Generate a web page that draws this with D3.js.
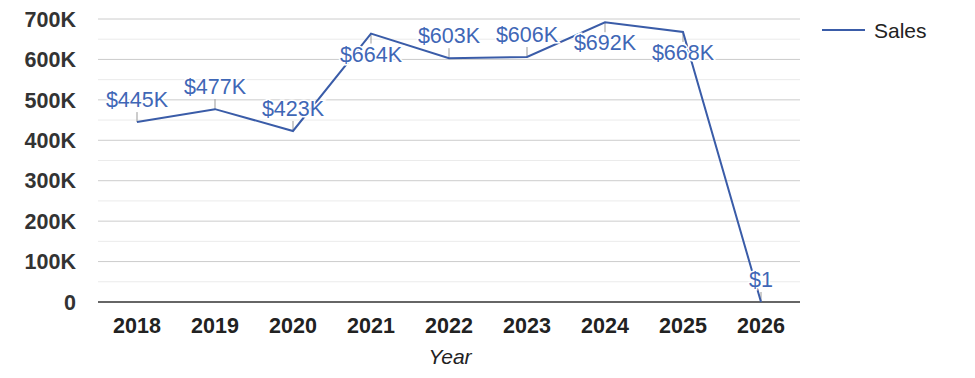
<!DOCTYPE html>
<html>
<head>
<meta charset="utf-8">
<script src="https://cdn.jsdelivr.net/npm/d3@7"></script>
<style>
  body { margin: 0; background: #fff; }
  text { font-family: Arial, "Liberation Sans", sans-serif; }
</style>
</head>
<body>
<div id="chart"></div>
<script>
// data
const years = ["2018", "2019", "2020", "2021", "2022", "2023", "2024", "2025", "2026"];
const sales = [445000, 477000, 423000, 664000, 603000, 606000, 692000, 668000, 1];
const labels = ["$445K", "$477K", "$423K", "$664K", "$603K", "$606K", "$692K", "$668K", "$1"];
const labelBelow = [false, false, false, true, false, false, true, true, false];
const yTicks = [0, 100000, 200000, 300000, 400000, 500000, 600000, 700000];
const minorTicks = [50000, 150000, 250000, 350000, 450000, 550000, 650000];

const width = 975, height = 378;
const margin = { top: 19, right: 175, bottom: 76, left: 98 };
const innerW = width - margin.left - margin.right,
  innerH = height - margin.top - margin.bottom;

const svg = d3.select("#chart")
  .append("svg")
  .attr("width", width)
  .attr("height", height);

const g = svg.append("g")
  .attr("transform", `translate(${margin.left},${margin.top})`);

const x = d3.scalePoint().domain(years).range([0, innerW]).padding(0.5);
const y = d3.scaleLinear().domain([0, 700000]).range([innerH, 0]);

// minor grid
g.selectAll(".minor")
  .data(minorTicks)
  .join("line")
  .attr("x1", 0).attr("x2", innerW)
  .attr("y1", d => y(d)).attr("y2", d => y(d))
  .attr("stroke", "#ebebeb");

// major grid
g.selectAll(".major")
  .data(yTicks.slice(1))
  .join("line")
  .attr("x1", 0).attr("x2", innerW)
  .attr("y1", d => y(d)).attr("y2", d => y(d))
  .attr("stroke", "#cccccc");

// baseline
g.append("line")
  .attr("x1", 0).attr("x2", innerW)
  .attr("y1", y(0)).attr("y2", y(0))
  .attr("stroke", "#333")
  .attr("stroke-width", 1.5);

// y labels
g.selectAll(".ylab")
  .data(yTicks)
  .join("text")
  .attr("x", -22)
  .attr("y", d => y(d))
  .attr("dy", "0.36em")
  .attr("text-anchor", "end")
  .attr("font-size", 21.5)
  .attr("font-weight", "bold")
  .attr("fill", "#333")
  .text(d => d === 0 ? "0" : d3.format("d")(d / 1000) + "K");

// x labels
g.selectAll(".xlab")
  .data(years)
  .join("text")
  .attr("x", d => x(d))
  .attr("y", innerH + 31)
  .attr("text-anchor", "middle")
  .attr("font-size", 21.5)
  .attr("font-weight", "bold")
  .attr("fill", "#222")
  .text(d => d);

// axis title
g.append("text")
  .attr("x", innerW / 2 + 1)
  .attr("y", innerH + 62)
  .attr("text-anchor", "middle")
  .attr("font-size", 21)
  .attr("font-style", "italic")
  .attr("fill", "#222")
  .text("Year");

const pts = years.map((yr, i) => ({ yr, v: sales[i], label: labels[i], below: labelBelow[i] }));

// leader ticks
g.selectAll(".lead")
  .data(pts)
  .join("line")
  .attr("x1", d => x(d.yr)).attr("x2", d => x(d.yr))
  .attr("y1", d => y(d.v))
  .attr("y2", d => y(d.v) + (d.below ? 10 : -10))
  .attr("stroke", "#999")
  .attr("stroke-width", 1);

// line
g.append("path")
  .datum(pts)
  .attr("fill", "none")
  .attr("stroke", "#3a5ca8")
  .attr("stroke-width", 2)
  .attr("d", d3.line().x(d => x(d.yr)).y(d => y(d.v)));

// annotations
g.selectAll(".ann")
  .data(pts)
  .join("text")
  .attr("x", d => x(d.yr))
  .attr("y", d => y(d.v) + (d.below ? 28 : -15))
  .attr("text-anchor", "middle")
  .attr("font-size", 21.5)
  .attr("fill", "#3f67b6")
  .attr("stroke", "#fff")
  .attr("stroke-width", 3)
  .attr("paint-order", "stroke")
  .text(d => d.label);

// legend
const leg = svg.append("g").attr("transform", "translate(822,30)");
leg.append("line")
  .attr("x1", 0).attr("x2", 43)
  .attr("stroke", "#3a5ca8")
  .attr("stroke-width", 2);
leg.append("text")
  .attr("x", 52)
  .attr("dy", "0.36em")
  .attr("font-size", 21)
  .attr("fill", "#222")
  .text("Sales");
</script>
</body>
</html>
